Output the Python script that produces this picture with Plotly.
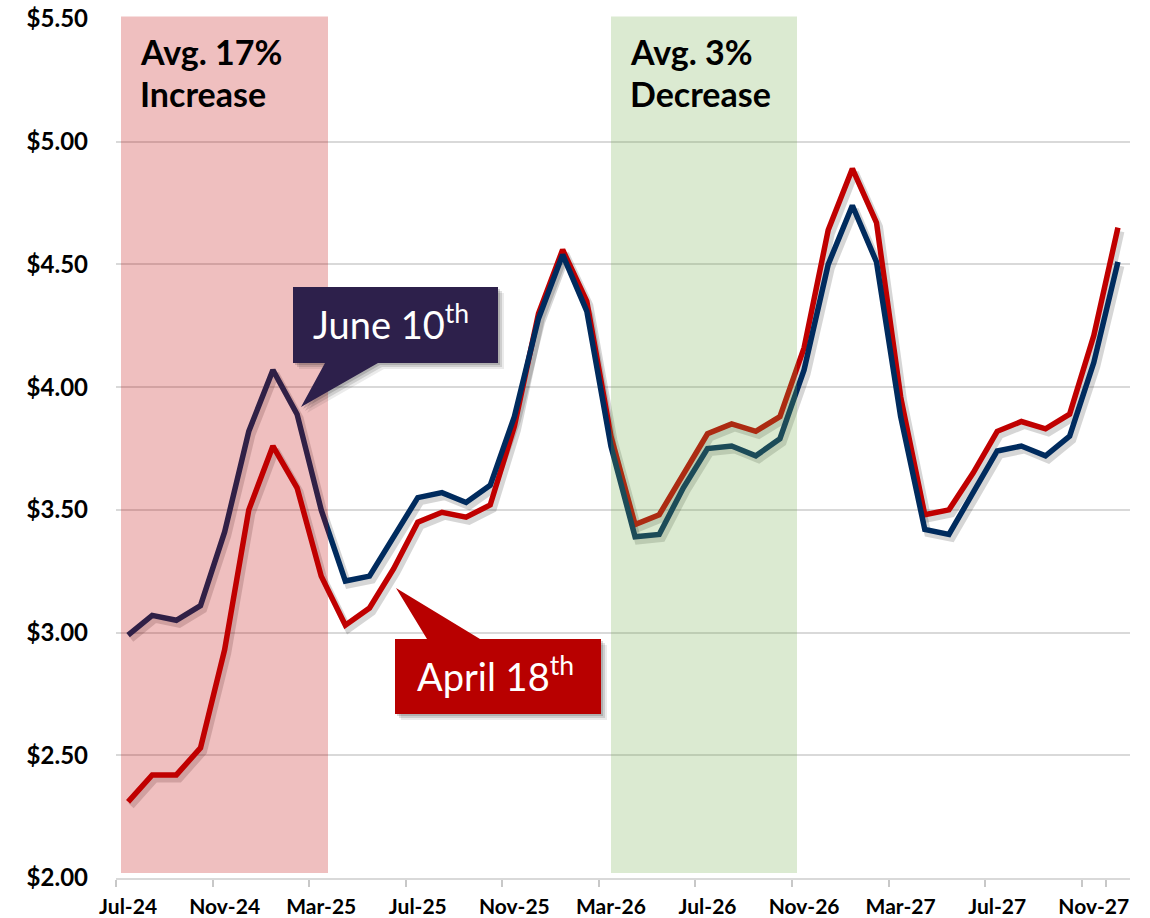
import plotly.graph_objects as go

# ---- data ----
months = ["Jul-24", "Aug-24", "Sep-24", "Oct-24", "Nov-24", "Dec-24",
          "Jan-25", "Feb-25", "Mar-25", "Apr-25", "May-25", "Jun-25",
          "Jul-25", "Aug-25", "Sep-25", "Oct-25", "Nov-25", "Dec-25",
          "Jan-26", "Feb-26", "Mar-26", "Apr-26", "May-26", "Jun-26",
          "Jul-26", "Aug-26", "Sep-26", "Oct-26", "Nov-26", "Dec-26",
          "Jan-27", "Feb-27", "Mar-27", "Apr-27", "May-27", "Jun-27",
          "Jul-27", "Aug-27", "Sep-27", "Oct-27", "Nov-27", "Dec-27"]

april18 = [2.31, 2.42, 2.42, 2.53, 2.93, 3.50, 3.76, 3.59, 3.23, 3.03, 3.10, 3.26,
           3.45, 3.49, 3.47, 3.52, 3.84, 4.30, 4.56, 4.35, 3.80, 3.44, 3.48, 3.64,
           3.81, 3.85, 3.82, 3.88, 4.16, 4.64, 4.89, 4.67, 3.96, 3.48, 3.50, 3.65,
           3.82, 3.86, 3.83, 3.89, 4.21, 4.65]

june10 = [2.99, 3.07, 3.05, 3.11, 3.41, 3.82, 4.07, 3.89, 3.50, 3.21, 3.23, 3.39,
          3.55, 3.57, 3.53, 3.60, 3.88, 4.28, 4.54, 4.31, 3.76, 3.39, 3.40, 3.59,
          3.75, 3.76, 3.72, 3.79, 4.07, 4.50, 4.74, 4.51, 3.88, 3.42, 3.40, 3.57,
          3.74, 3.76, 3.72, 3.80, 4.10, 4.51]

tick_labels = months[::4]

# ---- geometry helpers (pixel -> paper) ----
W, H = 1150, 918
ML, MR, MT, MB = 116, 20, 19, 40
PW, PH = W - ML - MR, H - MT - MB
YMIN, YMAX = 2.0, 5.5


def px(x):
    return (x - ML) / PW


def py(y):
    return (H - MB - y) / PH


RED = "#C00000"
NAVY = "#002B5E"
SHADOW = "rgba(0,0,0,0.16)"

n = len(months)
cat_w = PW / n
sx = 3 / cat_w            # shadow shift, in categories
sy = 4 / (PH / (YMAX - YMIN))  # shadow shift, in data units

fig = go.Figure()

# shadows (on shifted base axes)
for vals in (april18, june10):
    fig.add_trace(go.Scatter(x=months, y=vals, mode="lines", xaxis="x", yaxis="y",
                             line=dict(color=SHADOW, width=7), hoverinfo="skip",
                             showlegend=False))

# main lines
fig.add_trace(go.Scatter(x=months, y=april18, mode="lines", name="April 18th",
                         xaxis="x2", yaxis="y2", line=dict(color=RED, width=5.5),
                         showlegend=False))
fig.add_trace(go.Scatter(x=months, y=june10, mode="lines", name="June 10th",
                         xaxis="x2", yaxis="y2", line=dict(color=NAVY, width=5.5),
                         showlegend=False))

shapes = []
# shaded periods (translucent, above lines)
shapes.append(dict(type="rect", xref="paper", yref="paper", layer="above",
                   x0=px(121), x1=px(328), y0=py(873), y1=py(16.5),
                   fillcolor="#C00000", opacity=0.25, line=dict(width=0)))
shapes.append(dict(type="rect", xref="paper", yref="paper", layer="above",
                   x0=px(611), x1=px(797), y0=py(873), y1=py(16.5),
                   fillcolor="#70AD47", opacity=0.25, line=dict(width=0)))


def callout_path(pts, dx=0, dy=0):
    s = ""
    for k, (x, y) in enumerate(pts):
        s += ("M" if k == 0 else " L") + f"{px(x + dx):.5f},{py(y + dy):.5f}"
    return s + " Z"


june_pts = [(293, 287), (498, 287), (498, 363), (378, 363), (301, 407), (325, 363), (293, 363)]
april_pts = [(395, 639), (427, 639), (396, 588), (480, 639), (601, 639), (601, 714), (395, 714)]

for pts, col in ((june_pts, "#2D204B"), (april_pts, "#B80000")):
    for d, a in ((6, 0.08), (4, 0.12), (2, 0.15)):
        shapes.append(dict(type="path", xref="paper", yref="paper", layer="above",
                           path=callout_path(pts, d, d), fillcolor=f"rgba(0,0,0,{a})",
                           line=dict(width=0)))
    shapes.append(dict(type="path", xref="paper", yref="paper", layer="above",
                       path=callout_path(pts), fillcolor=col, line=dict(width=0)))

BIG = dict(family="Lato", size=34, color="#000000")
annotations = [
    dict(xref="paper", yref="paper", x=px(138), y=py(51), xanchor="left", yanchor="middle",
         text="<b>Avg. 17%</b>", showarrow=False, align="left", font=BIG),
    dict(xref="paper", yref="paper", x=px(138), y=py(94), xanchor="left", yanchor="middle",
         text="<b>Increase</b>", showarrow=False, align="left", font=BIG),
    dict(xref="paper", yref="paper", x=px(628), y=py(51), xanchor="left", yanchor="middle",
         text="<b>Avg. 3%</b>", showarrow=False, align="left", font=BIG),
    dict(xref="paper", yref="paper", x=px(628), y=py(94), xanchor="left", yanchor="middle",
         text="<b>Decrease</b>", showarrow=False, align="left", font=BIG),
    dict(xref="paper", yref="paper", x=px(391), y=py(322), xanchor="center", yanchor="middle",
         text="June 10<sup>th</sup>", showarrow=False,
         font=dict(family="Lato", size=38, color="#FFFFFF")),
    dict(xref="paper", yref="paper", x=px(495), y=py(674), xanchor="center", yanchor="middle",
         text="April 18<sup>th</sup>", showarrow=False,
         font=dict(family="Lato", size=38, color="#FFFFFF")),
]

fig.update_layout(
    width=W, height=H,
    margin=dict(l=ML, r=MR, t=MT, b=MB, pad=0),
    paper_bgcolor="white", plot_bgcolor="white",
    showlegend=False,
    shapes=shapes, annotations=annotations,
    xaxis=dict(type="category", categoryorder="array", categoryarray=months,
               range=[-0.5 - sx, n - 0.5 - sx], visible=False, fixedrange=True),
    yaxis=dict(range=[YMIN + sy, YMAX + sy], visible=False, fixedrange=True),
    xaxis2=dict(type="category", categoryorder="array", categoryarray=months,
                overlaying="x", side="bottom", range=[-0.5, n - 0.5],
                tickmode="array", tickvals=tick_labels, ticktext=tick_labels,
                tickangle=0,
                tickson="boundaries", ticks="outside", ticklen=7, tickwidth=1.5,
                tickcolor="#C8C8C8", showline=True, linecolor="#D9D9D9", linewidth=1.5,
                showgrid=False, ticklabelstandoff=9, automargin=False,
                tickfont=dict(family="Lato", size=21, color="#000000", weight="bold")),
    yaxis2=dict(overlaying="y", side="left", range=[YMIN, YMAX], dtick=0.5, tick0=2,
                tickprefix="$", tickformat=".2f", showgrid=True, gridcolor="#D9D9D9",
                gridwidth=1.5, zeroline=False, showline=False, ticks="",
                ticklabelstandoff=27, automargin=False,
                tickfont=dict(family="Lato", size=24, color="#000000", weight="bold")),
)

fig.write_html("out.html", config={"displayModeBar": False},
               post_script="document.body.style.margin='0';document.body.style.overflow='hidden';")
